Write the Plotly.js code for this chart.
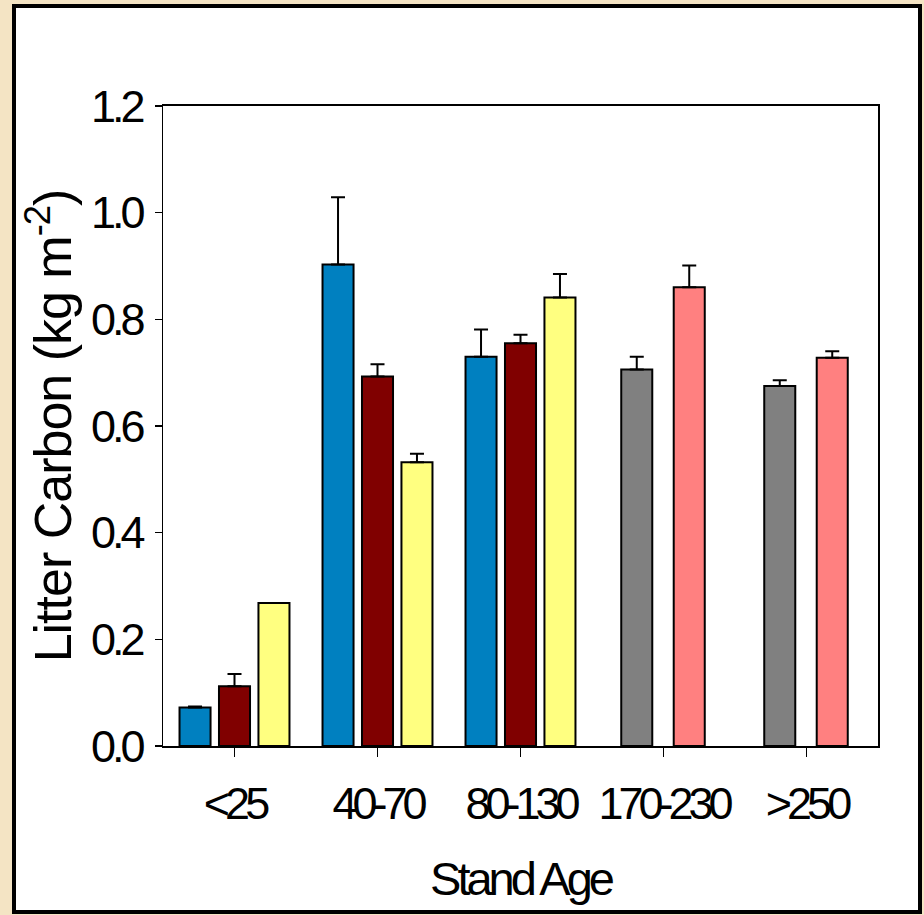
<!DOCTYPE html>
<html>
<head>
<meta charset="utf-8">
<script src="https://cdn.plot.ly/plotly-3.0.1.min.js"></script>
<style>
  html, body { margin: 0; padding: 0; background: #f4e4c4; }
  #chart { width: 924px; height: 915px; }
  .xtick text { letter-spacing: -5px; }
  .ytick text { letter-spacing: -4px; }
  .g-xtitle text { letter-spacing: -4px; }
  .g-ytitle text { letter-spacing: -1px; }
</style>
</head>
<body>
<div id="chart"></div>
<script>
// ---- data ----
const categories = ['<25', '40-70', '80-130', '170-230', '>250'];

const blueValues   = [0.072, 0.903, 0.730, null, null];
const blueErrors   = [0.002, 0.126, 0.051, null, null];

const maroonValues = [0.112, 0.693, 0.755, null, null];
const maroonErrors = [0.023, 0.023, 0.016, null, null];

const yellowValues = [0.268, 0.532, 0.841, null, null];
const yellowErrors = [null, 0.016, 0.044, null, null];

const greyValues   = [null, null, null, 0.706, 0.675];
const greyErrors   = [null, null, null, 0.024, 0.011];

const pinkValues   = [null, null, null, 0.860, 0.728];
const pinkErrors   = [null, null, null, 0.041, 0.012];

const yTickValues = [0, 0.2, 0.4, 0.6, 0.8, 1.0, 1.2];
const yTickLabels = ['0.0', '0.2', '0.4', '0.6', '0.8', '1.0', '1.2'];

// ---- styling ----
const BAR_W = 0.217;
function barTrace(name, values, errors, color, center) {
  return {
    type: 'bar',
    name: name,
    x: categories,
    y: values,
    width: BAR_W,
    offset: center - BAR_W / 2,
    marker: { color: color, line: { color: '#000000', width: 2 } },
    error_y: {
      type: 'data',
      symmetric: false,
      array: errors,
      arrayminus: errors.map(() => 0),
      color: '#000000',
      thickness: 2,
      width: 7,
      visible: true
    },
    hoverinfo: 'x+y'
  };
}

const traces = [
  barTrace('Series 1', blueValues, blueErrors, '#0080c0', -0.276),
  barTrace('Series 2', maroonValues, maroonErrors, '#800000', 0),
  barTrace('Series 3', yellowValues, yellowErrors, '#ffff80', 0.276),
  barTrace('Series 4', greyValues, greyErrors, '#808080', -0.187),
  barTrace('Series 5', pinkValues, pinkErrors, '#ff8080', 0.180)
];

const L = 163, R = 46, T = 106, B = 169;
const W = 924, H = 915;
const pw = W - L - R, ph = H - T - B;
function px2x(p) { return (p - L) / pw; }
function py2y(p) { return (H - B - p) / ph; }

const layout = {
  width: W,
  height: H,
  margin: { l: L, r: R, t: T, b: B, pad: 0 },
  paper_bgcolor: '#f4e4c4',
  plot_bgcolor: '#ffffff',
  barmode: 'overlay',
  showlegend: false,
  font: { family: 'Arial, "Liberation Sans", sans-serif', color: '#000000' },
  xaxis: {
    type: 'category',
    range: [-0.5, 4.5],
    showgrid: false,
    zeroline: false,
    showline: true,
    linecolor: '#000000',
    linewidth: 2,
    mirror: true,
    ticks: 'outside',
    ticklen: 9,
    tickwidth: 1.5,
    tickcolor: '#000000',
    tickangle: 0,
    ticklabelstandoff: 8,
    tickfont: { size: 45, color: '#000000' },
    title: { text: 'Stand Age', font: { size: 47, color: '#000000' }, standoff: 34 },
    fixedrange: true
  },
  yaxis: {
    range: [0, 1.2],
    tickvals: yTickValues,
    ticktext: yTickLabels,
    showgrid: false,
    zeroline: false,
    showline: true,
    linecolor: '#000000',
    linewidth: 1.5,
    mirror: true,
    ticks: 'outside',
    ticklen: 7,
    tickwidth: 1.5,
    tickcolor: '#000000',
    ticklabelstandoff: 4,
    tickfont: { size: 45, color: '#000000' },
    title: { text: 'Litter Carbon (kg m<sup>-2</sup>)', font: { size: 52, color: '#000000' }, standoff: 2 },
    fixedrange: true
  },
  shapes: [
    {
      type: 'rect', xref: 'paper', yref: 'paper', layer: 'below',
      x0: px2x(14), x1: px2x(920), y0: py2y(912), y1: py2y(6),
      fillcolor: '#ffffff',
      line: { color: '#000000', width: 4 }
    }
  ]
};

Plotly.newPlot('chart', traces, layout, { staticPlot: true, displayModeBar: false });
</script>
</body>
</html>
